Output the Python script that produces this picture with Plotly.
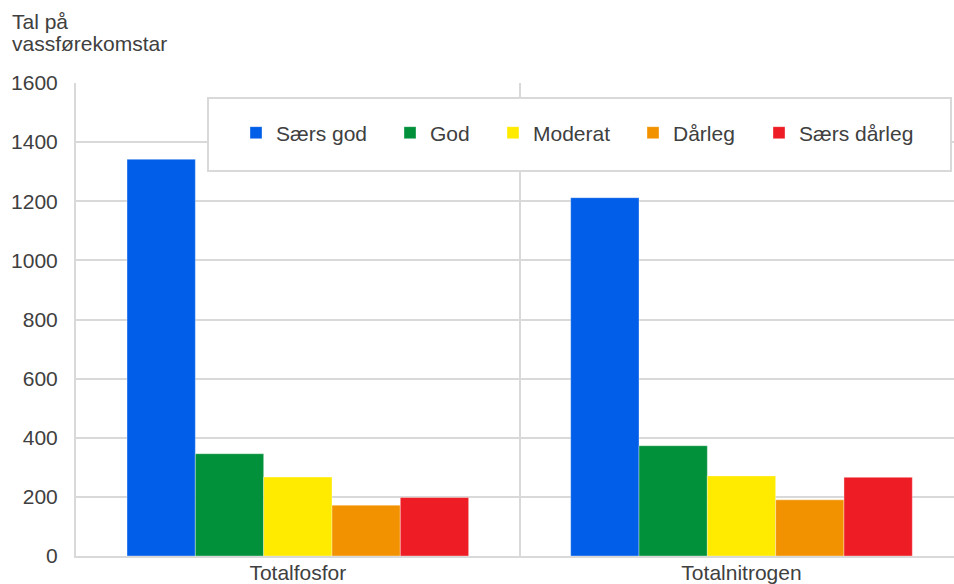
import plotly.graph_objects as go

categories = ["Totalfosfor", "Totalnitrogen"]
series_names = ["Særs god", "God", "Moderat", "Dårleg", "Særs dårleg"]
series_values = {
    "Særs god": [1342, 1212],
    "God": [346, 373],
    "Moderat": [267, 271],
    "Dårleg": [172, 190],
    "Særs dårleg": [198, 266],
}
series_colors = ["#005EE8", "#00913A", "#FFEB00", "#F39200", "#EE1D25"]
y_ticks = [0, 200, 400, 600, 800, 1000, 1200, 1400, 1600]
y_title_lines = ["Tal på", "vassførekomstar"]

FONT = "Liberation Sans, Arial, sans-serif"
TXT = "#404040"
GRID = "#d9d9d9"

W, H = 954, 584
ml, mr, mt, mb = 76, 0, 83, 28
pw = W - ml - mr
ph = H - mt - mb


def px2x(px):
    return (px - ml) / pw


def py2y(py):
    return (H - mb - py) / ph


# legend text start positions (window px) for each series
legend_text_x = [276, 430, 533, 673, 799]

fig = go.Figure()
for i, (name, color) in enumerate(zip(series_names, series_colors)):
    fig.add_trace(go.Bar(
        name=name,
        x=categories,
        y=series_values[name],
        marker=dict(color=color, line=dict(color="rgba(255,255,255,0.35)", width=1)),
        legend="legend" if i == 0 else f"legend{i + 1}",
    ))

legend_common = dict(
    orientation="h",
    yanchor="middle", y=py2y(133),
    xanchor="left",
    bgcolor="rgba(0,0,0,0)", borderwidth=0,
    font=dict(family=FONT, size=21, color=TXT),
)
legends = {}
for i, tx in enumerate(legend_text_x):
    key = "legend" if i == 0 else f"legend{i + 1}"
    legends[key] = dict(legend_common, x=px2x(tx - 40))

fig.update_layout(
    width=W, height=H,
    margin=dict(l=ml, r=mr, t=mt, b=mb, pad=0, autoexpand=False),
    paper_bgcolor="white", plot_bgcolor="white",
    barmode="group", bargap=0.23, bargroupgap=0,
    font=dict(family=FONT, size=21, color=TXT),
    showlegend=True,
    **legends,
    xaxis=dict(
        range=[-0.5, 1.479],
        automargin=False,
        showgrid=False,
        showline=True, linecolor=GRID, linewidth=2,
        ticks="", ticklabelstandoff=-3,
        minor=dict(tickvals=[0.5], showgrid=True, gridcolor=GRID, gridwidth=2, ticks=""),
        zeroline=False,
        fixedrange=True,
    ),
    yaxis=dict(
        range=[0, 1600],
        automargin=False,
        tickvals=y_ticks,
        showgrid=True, gridcolor=GRID, gridwidth=2,
        showline=True, linecolor=GRID, linewidth=2,
        zeroline=False,
        ticks="", ticklabelstandoff=12,
        fixedrange=True,
    ),
    shapes=[dict(
        type="rect", xref="paper", yref="paper",
        x0=px2x(208), x1=px2x(951), y0=py2y(171), y1=py2y(98),
        line=dict(color=GRID, width=2), fillcolor="white", layer="above",
    )],
    annotations=[
        dict(text=y_title_lines[0], xref="paper", yref="paper",
             x=px2x(10), y=py2y(8), xanchor="left", yanchor="top",
             showarrow=False, font=dict(family=FONT, size=21, color=TXT)),
        dict(text=y_title_lines[1], xref="paper", yref="paper",
             x=px2x(10), y=py2y(30), xanchor="left", yanchor="top",
             showarrow=False, font=dict(family=FONT, size=21, color=TXT)),
    ],
)

fig.write_html(
    "out.html",
    config={"displayModeBar": False},
    post_script="document.body.style.margin='0';document.body.style.overflow='hidden';",
)
